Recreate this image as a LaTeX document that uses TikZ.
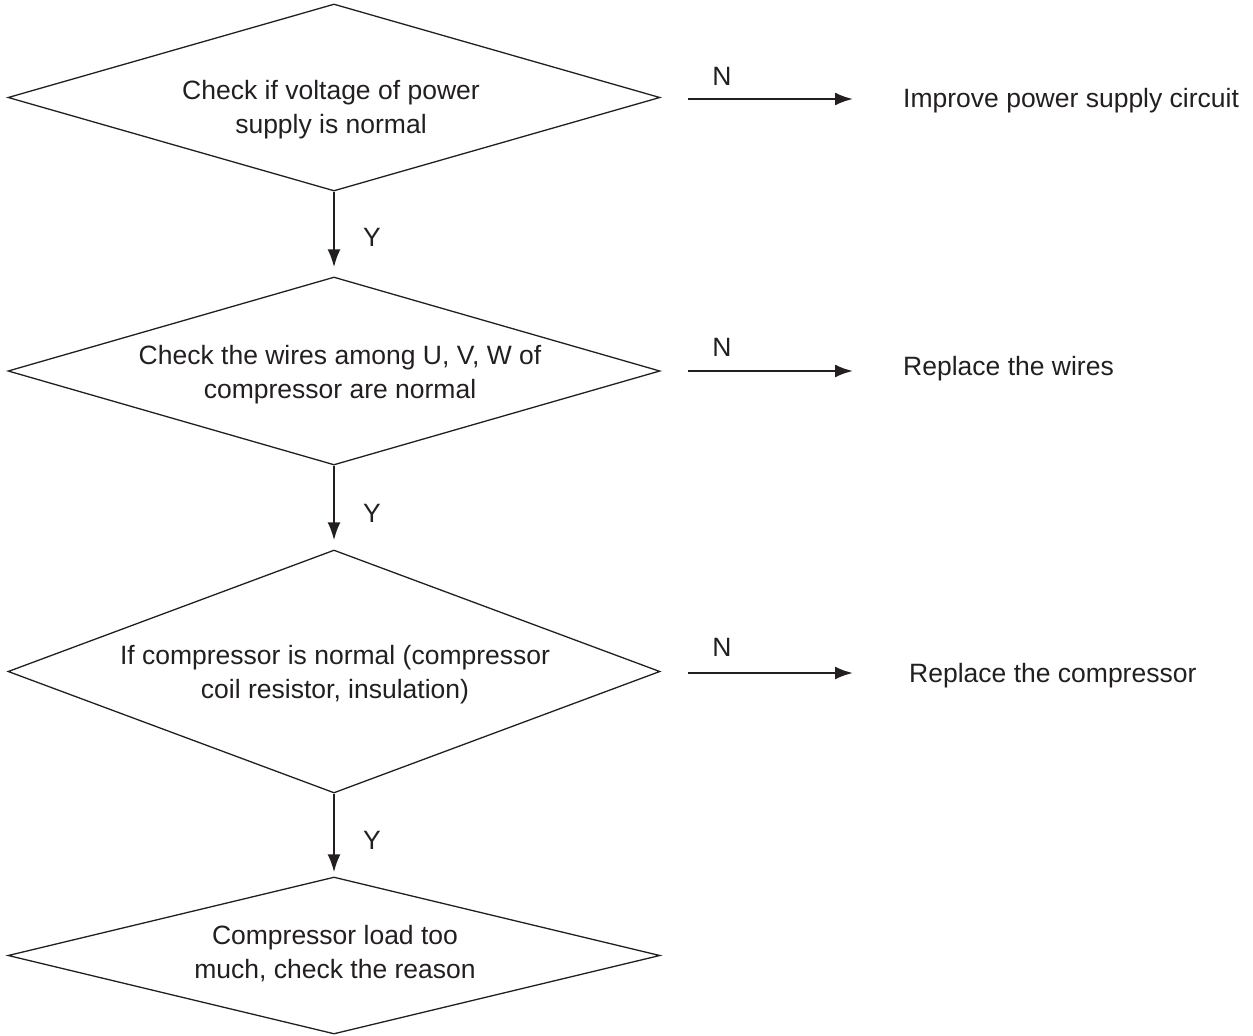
\documentclass[tikz,border=0pt]{standalone}
\usepackage{fontspec}
\setmainfont{Liberation Sans}
\usetikzlibrary{shapes.geometric,arrows.meta}
\definecolor{ink}{RGB}{35,31,32}
\begin{document}
\begin{tikzpicture}[x=1pt,y=-1pt,
  dec/.style={draw=ink,line width=1.3pt,shape=diamond,inner sep=0pt,minimum width=652pt,minimum height=#1},
  txt/.style={text=ink,font=\fontsize{26.5}{34}\selectfont,align=center,inner sep=0pt},
  lbl/.style={text=ink,font=\fontsize{26.5}{34}\selectfont,inner sep=0pt},
  arr/.style={draw=ink,line width=2.3pt,-{Latex[length=18pt,width=13pt]}}]
\useasboundingbox (0,0) rectangle (1253,1036);
% decisions
\node[dec=187pt] (d1) at (334,97.5) {};
\node[dec=188pt] (d2) at (334,371) {};
\node[dec=243pt] (d3) at (334,671.5) {};
\node[dec=157pt] (d4) at (334,955.5) {};
\node[txt] (t1) at (331,110) {Check if voltage of power\\supply is normal};
\node[txt] (t2) at (340,375) {Check the wires among U, V, W of\\compressor are normal};
\node[txt] (t3) at (335,675) {If compressor is normal (compressor\\coil resistor, insulation)};
\node[txt] (t4) at (335,954) {Compressor load too\\much, check the reason};
% yes arrows
\draw[arr,shorten >=9pt] (d1.south) -- (d2.north);
\draw[arr,shorten >=9pt] (d2.south) -- (d3.north);
\draw[arr,shorten >=4pt] (d3.south) -- (d4.north);
\node[lbl] (y1) at (372,237) {Y};
\node[lbl] (y2) at (372,513) {Y};
\node[lbl] (y3) at (372,840) {Y};
% no branches
\coordinate (n1s) at (688,99);
\coordinate (n2s) at (688,371);
\coordinate (n3s) at (688,673);
\node[lbl,anchor=west] (r1) at (903,101) {Improve power supply circuit};
\node[lbl,anchor=west] (r2) at (903,369) {Replace the wires};
\node[lbl,anchor=west] (r3) at (909,676) {Replace the compressor};
\draw[arr] (n1s) -- (n1s -| 853,0);
\draw[arr] (n2s) -- (n2s -| 853,0);
\draw[arr] (n3s) -- (n3s -| 853,0);
\node[lbl] (nl1) at (722,76) {N};
\node[lbl] (nl2) at (722,347) {N};
\node[lbl] (nl3) at (722,647) {N};
\end{tikzpicture}
\end{document}
